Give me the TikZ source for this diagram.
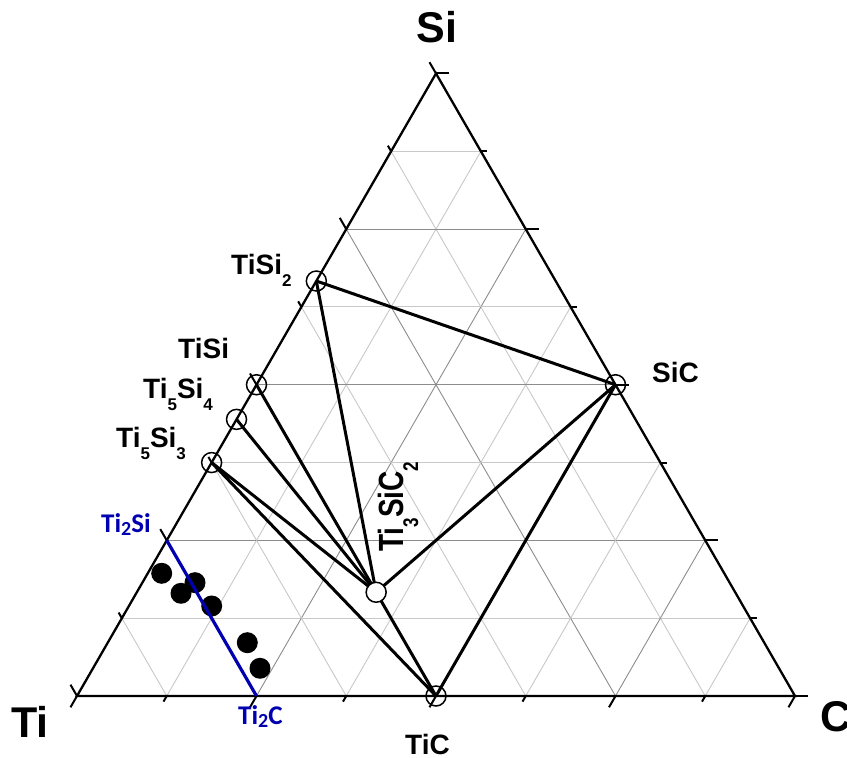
\documentclass[tikz,border=0pt]{standalone}
\usepackage{fontspec}
\setmainfont{Liberation Sans}
\newfontfamily\blfont{Carlito}
\newcommand\lsub[1]{\raisebox{-12pt}{\fontsize{17}{17}\selectfont #1}}
\newcommand\bsub[1]{\raisebox{-3pt}{\fontsize{20}{20}\selectfont #1}}
\definecolor{dkblue}{RGB}{0,0,176}
\tikzset{
  minorgrid/.style={draw={rgb,255:red,200;green,200;blue,200},line width=0.9pt},
  majorgrid/.style={draw={rgb,255:red,140;green,140;blue,140},line width=0.9pt},
  tickline/.style={draw=black,line width=2pt},
  frame/.style={draw=black,line width=2.3pt,line join=miter},
  tie/.style={draw=black,line width=3pt},
  phase/.style={circle,draw=black,line width=1.5pt,minimum size=20pt,inner sep=0pt},
  phasew/.style={phase,fill=white},
  dot/.style={circle,fill=black,minimum size=21pt,inner sep=0pt},
  blueline/.style={draw=dkblue,line width=3.2pt},
  lab/.style={inner sep=0pt,font=\bfseries\fontsize{28}{30}\selectfont},
  biglab/.style={inner sep=0pt,font=\bfseries\fontsize{43}{45}\selectfont},
  bluelab/.style={inner sep=0pt,text=dkblue,font=\blfont\bfseries\fontsize{27}{29}\selectfont}
}
\begin{document}
\begin{tikzpicture}[x=1pt,y=1pt]
\useasboundingbox (0,0) rectangle (847,758);
\coordinate (Ti) at (77,62);
\coordinate (C) at (795,62);
\coordinate (Si) at (436,684.5);
% grid
\foreach \k in {1,...,7}{
  \pgfmathsetmacro\a{\k/8}
  \pgfmathsetmacro\b{1-\a}
  \ifodd\k \def\gs{minorgrid}\else\def\gs{majorgrid}\fi
  \draw[\gs] (barycentric cs:Ti=\b,Si=\a,C=0) -- (barycentric cs:Ti=0,Si=\a,C=\b);
  \draw[\gs] (barycentric cs:Ti=\b,Si=0,C=\a) -- (barycentric cs:Ti=0,Si=\b,C=\a);
  \draw[\gs] (barycentric cs:Ti=\a,Si=0,C=\b) -- (barycentric cs:Ti=\a,Si=\b,C=0);
}
% ticks
\foreach \k in {0,...,8}{
  \pgfmathsetmacro\a{\k/8}
  \pgfmathsetmacro\b{1-\a}
  \ifodd\k \def\tl{6.5}\else\def\tl{13}\fi
  \draw[tickline] (barycentric cs:Ti=\b,Si=\a,C=0) -- ++(120:\tl);
  \draw[tickline] (barycentric cs:Ti=0,Si=\a,C=\b) -- ++(0:\tl);
  \draw[tickline] (barycentric cs:Ti=\b,Si=0,C=\a) -- ++(240:\tl);
}
% frame
\draw[frame] (Ti) -- (C) -- (Si) -- cycle;
% phases
\coordinate (TiSi2) at (barycentric cs:Ti=1,Si=2,C=0);
\coordinate (TiSi) at (barycentric cs:Ti=1,Si=1,C=0);
\coordinate (Ti5Si4) at (barycentric cs:Ti=5,Si=4,C=0);
\coordinate (Ti5Si3) at (barycentric cs:Ti=5,Si=3,C=0);
\coordinate (SiC) at (barycentric cs:Ti=0,Si=1,C=1);
\coordinate (TiC) at (barycentric cs:Ti=1,Si=0,C=1);
\coordinate (Ti3SiC2) at (barycentric cs:Ti=3,Si=1,C=2);
\coordinate (Ti2Si) at (barycentric cs:Ti=3,Si=1,C=0);
\coordinate (Ti2C) at (barycentric cs:Ti=3,Si=0,C=1);
% tie lines
\draw[tie] (TiSi2) -- (SiC);
\draw[tie] (TiSi2) -- (Ti3SiC2);
\draw[tie] (TiSi) -- (Ti3SiC2);
\draw[tie] (Ti5Si4) -- (Ti3SiC2);
\draw[tie] (Ti5Si3) -- (Ti3SiC2);
\draw[tie] (Ti5Si3) -- (TiC);
\draw[tie] (Ti3SiC2) -- (TiC);
\draw[tie] (Ti3SiC2) -- (SiC);
\draw[tie] (TiC) -- (SiC);
% phase circles
\node[phase] (cTiSi2) at (TiSi2) {};
\node[phase] (cTiSi) at (TiSi) {};
\node[phase] (cTi5Si4) at (Ti5Si4) {};
\node[phase] (cTi5Si3) at (Ti5Si3) {};
\node[phase] (cSiC) at (SiC) {};
\node[phase] (cTiC) at (TiC) {};
\node[phasew] (cTi3SiC2) at (Ti3SiC2) {};
% data points
\node[dot] (d1) at (161.7,184.7) {};
\node[dot] (d2) at (195,175.3) {};
\node[dot] (d3) at (181,164.7) {};
\node[dot] (d4) at (211.7,152) {};
\node[dot] (d5) at (247.3,115.3) {};
\node[dot] (d6) at (260,89.7) {};
% blue line
\draw[blueline] (Ti2Si) -- (Ti2C);
% labels
\node[biglab,anchor=base] (lSi) at (437,715) {Si};
\node[biglab,anchor=base west] (lTi) at (11,20) {Ti};
\node[biglab,anchor=base west] (lC) at (820,26) {C};
\node[lab,anchor=base west] (lTiSi2) at (231,483) {TiSi\lsub{2}};
\node[lab,anchor=base west] (lTiSi) at (178,399) {TiSi};
\node[lab,anchor=base west] (lTi5Si4) at (143,359) {Ti\lsub{5}Si\lsub{4}};
\node[lab,anchor=base west] (lTi5Si3) at (116,310) {Ti\lsub{5}Si\lsub{3}};
\node[lab,anchor=base west] (lSiC) at (652,375) {SiC};
\node[lab,anchor=base west] (lTiC) at (405,3) {TiC};
\node[lab,anchor=base west,rotate=90] (lTi3SiC2) at (403,206) {\scalebox{1}[1.25]{Ti\lsub{3}SiC\lsub{2}}};
\node[bluelab,anchor=base west] (lTi2Si) at (101,225) {Ti\bsub{2}Si};
\node[bluelab,anchor=base west] (lTi2C) at (238,33) {Ti\bsub{2}C};
\end{tikzpicture}
\end{document}
